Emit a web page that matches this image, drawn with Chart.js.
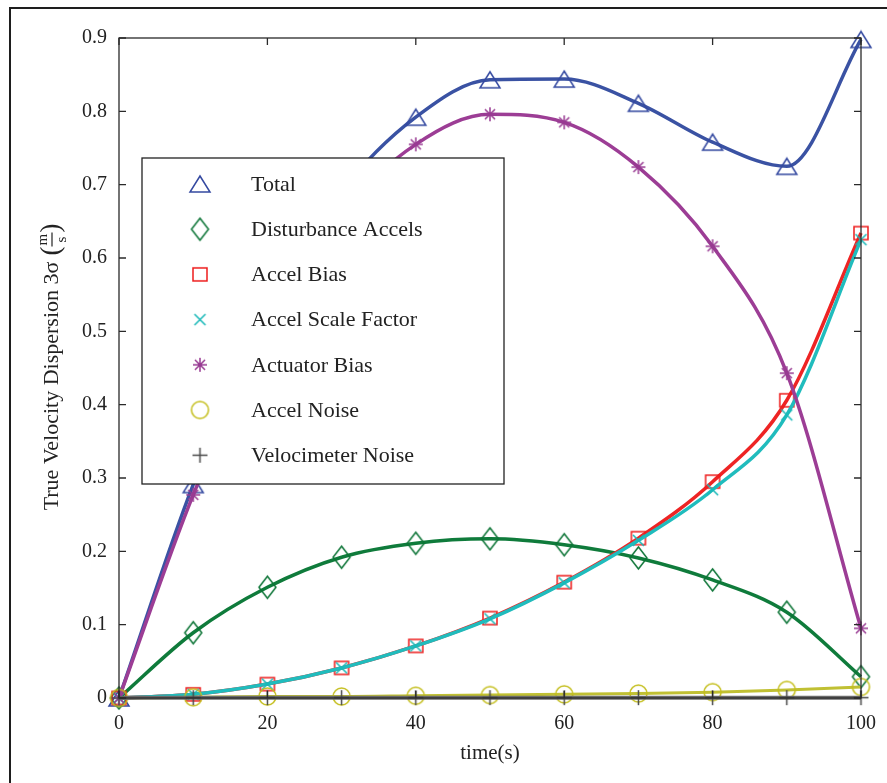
<!DOCTYPE html>
<html>
<head>
<meta charset="utf-8">
<script src="https://cdn.jsdelivr.net/npm/chart.js@4.4.1/dist/chart.umd.min.js"></script>
<style>
    html, body { margin: 0; padding: 0; background: #fff; }
    #wrap { width: 887px; height: 783px; position: relative; }
</style>
</head>
<body>
<div id="wrap"><canvas id="chart" width="887" height="783"></canvas></div>
<script>
// time axis (s)
const timeSteps = [0, 10, 20, 30, 40, 50, 60, 70, 80, 90, 100];
const xTicks = [0, 20, 40, 60, 80, 100];

// 3-sigma velocity dispersion per error source (m/s)
const totalValues       = [0, 0.291, 0.523, 0.690, 0.792, 0.843, 0.844, 0.811, 0.758, 0.725, 0.898];
const disturbanceValues = [0, 0.089, 0.151, 0.192, 0.211, 0.217, 0.209, 0.191, 0.161, 0.117, 0.029];
const accelBiasValues   = [0, 0.005, 0.019, 0.041, 0.071, 0.109, 0.158, 0.218, 0.295, 0.406, 0.634];
const scaleFactorValues = [0, 0.005, 0.019, 0.041, 0.071, 0.108, 0.157, 0.215, 0.284, 0.386, 0.625];
const actuatorValues    = [0, 0.277, 0.500, 0.660, 0.755, 0.796, 0.785, 0.724, 0.616, 0.443, 0.095];
const accelNoiseValues  = [0, 0.001, 0.002, 0.002, 0.003, 0.004, 0.005, 0.006, 0.008, 0.011, 0.015];
const velNoiseValues    = [0, 0.0005, 0.0005, 0.0005, 0.0005, 0.0005, 0.0005, 0.0005, 0.0005, 0.0005, 0.0005];

const seriesNames = ['Total', 'Disturbance Accels', 'Accel Bias', 'Accel Scale Factor',
                     'Actuator Bias', 'Accel Noise', 'Velocimeter Noise'];

const FONT = '"Liberation Serif", "DejaVu Serif", serif';

// hollow marker glyphs, drawn once into small canvases
function makeMarker(shape, color, w, h) {
    const pad = 2;
    const c = document.createElement('canvas');
    c.width = Math.ceil(w + pad * 2);
    c.height = Math.ceil(h + pad * 2);
    const g = c.getContext('2d');
    const cx = c.width / 2, cy = c.height / 2, hw = w / 2, hh = h / 2;
    g.strokeStyle = color;
    g.lineWidth = 1.5;
    g.beginPath();
    if (shape === 'triangle') {
        g.moveTo(cx, cy - hh); g.lineTo(cx + hw, cy + hh); g.lineTo(cx - hw, cy + hh); g.closePath();
    } else if (shape === 'diamond') {
        g.moveTo(cx, cy - hh); g.lineTo(cx + hw, cy); g.lineTo(cx, cy + hh); g.lineTo(cx - hw, cy); g.closePath();
    } else if (shape === 'square') {
        g.rect(cx - hw, cy - hh, w, h);
    } else if (shape === 'cross') {
        g.moveTo(cx - hw, cy - hh); g.lineTo(cx + hw, cy + hh);
        g.moveTo(cx + hw, cy - hh); g.lineTo(cx - hw, cy + hh);
    } else if (shape === 'star') {
        const d = hw * 0.72;
        g.moveTo(cx, cy - hh); g.lineTo(cx, cy + hh);
        g.moveTo(cx - hw, cy); g.lineTo(cx + hw, cy);
        g.moveTo(cx - d, cy - d); g.lineTo(cx + d, cy + d);
        g.moveTo(cx + d, cy - d); g.lineTo(cx - d, cy + d);
    } else if (shape === 'circle') {
        g.arc(cx, cy, hw, 0, Math.PI * 2);
    } else if (shape === 'plus') {
        g.moveTo(cx, cy - hh); g.lineTo(cx, cy + hh);
        g.moveTo(cx - hw, cy); g.lineTo(cx + hw, cy);
    }
    g.stroke();
    return c;
}

const seriesValues = [totalValues, disturbanceValues, accelBiasValues, scaleFactorValues,
                      actuatorValues, accelNoiseValues, velNoiseValues];
const lineColors = ['#3a52a3', '#0f7b3b', '#ee2424', '#20bcbd', '#9c3d95', '#c0c033', '#6b6b6b'];
const markerColors = ['#3449a0', '#0c7436', '#ee1c1c', '#18b8b8', '#983a92', '#c4be1c', '#4a4a4a'];
const markerShapes = ['triangle', 'diamond', 'square', 'cross', 'star', 'circle', 'plus'];
const markerSizes = [[20, 16], [17, 22], [14, 13], [11, 11], [14, 14], [17, 17], [15, 15]];
const lineWidths = [3.5, 3.5, 3.5, 3.5, 3.5, 3, 4];

const datasets = seriesNames.map((name, i) => ({
    label: name,
    data: timeSteps.map((t, k) => ({ x: t, y: seriesValues[i][k] })),
    borderColor: lineColors[i],
    borderWidth: lineWidths[i],
    backgroundColor: 'transparent',
    pointStyle: makeMarker(markerShapes[i], markerColors[i], markerSizes[i][0], markerSizes[i][1]),
    pointRadius: 6,
    cubicInterpolationMode: 'monotone',
    fill: false,
    clip: false,
    order: 6 - i
}));

// outer figure frame, inward ticks and axis box
const framePlugin = {
    id: 'frame',
    beforeDraw(chart) {
        const ctx = chart.ctx;
        ctx.save();
        ctx.fillStyle = '#fff';
        ctx.fillRect(0, 0, chart.width, chart.height);
        ctx.strokeStyle = '#1e1e1e';
        ctx.lineWidth = 2;
        ctx.beginPath();
        ctx.moveTo(10, 783); ctx.lineTo(10, 8); ctx.lineTo(887, 8);
        ctx.stroke();
        ctx.restore();
    },
    afterDraw(chart) {
        const { ctx, chartArea: a, scales } = chart;
        ctx.save();
        ctx.strokeStyle = '#2a2a2a';
        ctx.lineWidth = 1.3;
        ctx.strokeRect(a.left, a.top, a.right - a.left, a.bottom - a.top);
        ctx.beginPath();
        xTicks.forEach(t => {
            const px = scales.x.getPixelForValue(t);
            ctx.moveTo(px, a.bottom); ctx.lineTo(px, a.bottom - 7);
            ctx.moveTo(px, a.top); ctx.lineTo(px, a.top + 7);
        });
        scales.y.ticks.forEach(tk => {
            const py = scales.y.getPixelForValue(tk.value);
            ctx.moveTo(a.left, py); ctx.lineTo(a.left + 7, py);
            ctx.moveTo(a.right, py); ctx.lineTo(a.right - 7, py);
        });
        ctx.stroke();
        ctx.restore();
    }
};

// boxed legend inside the plot area
const boxLegend = {
    id: 'boxLegend',
    afterDatasetsDraw(chart) {
        const ctx = chart.ctx;
        const box = { x: 142, y: 158, w: 362, h: 326 };
        ctx.save();
        ctx.fillStyle = '#fff';
        ctx.fillRect(box.x, box.y, box.w, box.h);
        ctx.strokeStyle = '#222';
        ctx.lineWidth = 1.3;
        ctx.strokeRect(box.x, box.y, box.w, box.h);
        ctx.font = '22px ' + FONT;
        ctx.fillStyle = '#222';
        ctx.textBaseline = 'middle';
        chart.data.datasets.forEach((ds, i) => {
            const y = 184 + i * 45.2;
            const m = ds.pointStyle;
            ctx.drawImage(m, 200 - m.width / 2, y - m.height / 2);
            ctx.fillText(ds.label, 251, y + 1);
        });
        ctx.restore();
    }
};

// y title with the m/s fraction
const yTitle = {
    id: 'yTitle',
    afterDraw(chart) {
        const ctx = chart.ctx;
        const main = 'True Velocity Dispersion 3σ';
        ctx.save();
        ctx.translate(51, 367);
        ctx.rotate(-Math.PI / 2);
        ctx.fillStyle = '#222';
        ctx.textBaseline = 'middle';
        ctx.font = '22px ' + FONT;
        const w1 = ctx.measureText(main).width;
        ctx.font = '300 27px ' + FONT;
        const wp = ctx.measureText('(').width;
        const fracW = 14;
        const total = w1 + 6 + wp * 2 + fracW;
        let x = -total / 2;
        ctx.font = '22px ' + FONT;
        ctx.textAlign = 'left';
        ctx.fillText(main, x, 1);
        x += w1 + 6;
        ctx.font = '300 27px ' + FONT;
        ctx.fillText('(', x, 1);
        x += wp;
        ctx.font = '15px ' + FONT;
        ctx.textAlign = 'center';
        ctx.fillText('m', x + fracW / 2, -8);
        ctx.fillText('s', x + fracW / 2, 11);
        ctx.strokeStyle = '#222';
        ctx.lineWidth = 1.2;
        ctx.beginPath();
        ctx.moveTo(x, 1); ctx.lineTo(x + fracW, 1);
        ctx.stroke();
        x += fracW;
        ctx.font = '300 27px ' + FONT;
        ctx.textAlign = 'left';
        ctx.fillText(')', x, 1);
        ctx.restore();
    }
};

new Chart(document.getElementById('chart').getContext('2d'), {
    type: 'line',
    data: { datasets: datasets },
    options: {
        responsive: false,
        animation: false,
        devicePixelRatio: 1,
        layout: { padding: { left: 0, right: 26, top: 38, bottom: 0 } },
        plugins: {
            legend: { display: false },
            tooltip: { enabled: false }
        },
        scales: {
            x: {
                type: 'linear',
                min: 0,
                max: 100,
                afterFit: s => { s.height = 85; s.paddingLeft = 0; s.paddingRight = 0; },
                afterBuildTicks: s => { s.ticks = xTicks.map(v => ({ value: v })); },
                grid: { display: false, drawTicks: false },
                border: { display: false },
                ticks: {
                    padding: 14,
                    maxRotation: 0,
                    color: '#222',
                    font: { family: FONT, size: 20 }
                },
                title: {
                    display: true,
                    text: 'time(s)',
                    color: '#222',
                    font: { family: FONT, size: 21 },
                    padding: { top: 0, bottom: 17 }
                }
            },
            y: {
                min: 0,
                max: 0.9,
                afterFit: s => { s.width = 119; s.paddingTop = 0; s.paddingBottom = 0; },
                grid: { display: false, drawTicks: false },
                border: { display: false },
                ticks: {
                    stepSize: 0.1,
                    padding: 12,
                    color: '#222',
                    font: { family: FONT, size: 20 },
                    callback: v => (Math.abs(v) < 1e-9 ? '0' : v.toFixed(1))
                }
            }
        }
    },
    plugins: [framePlugin, boxLegend, yTitle]
});
</script>
</body>
</html>
